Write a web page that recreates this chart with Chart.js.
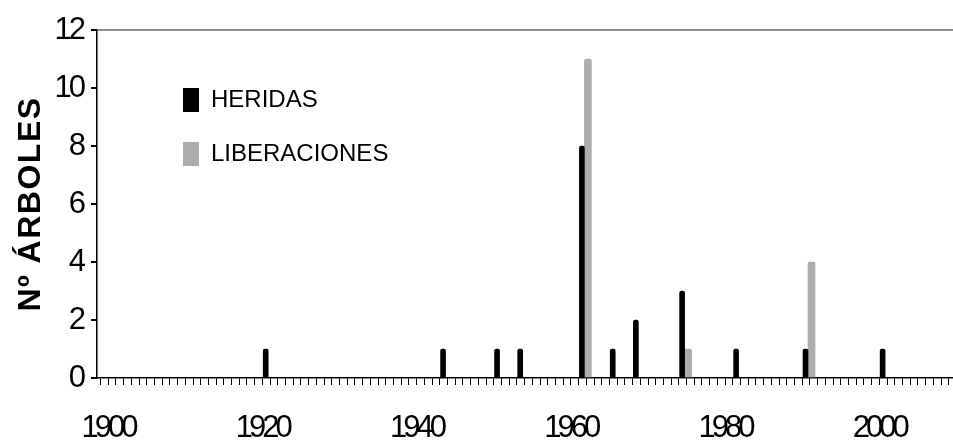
<!DOCTYPE html>
<html>
<head>
<meta charset="utf-8">
<script src="https://cdn.jsdelivr.net/npm/chart.js@4/dist/chart.umd.min.js"></script>
<style>
  html, body { margin: 0; padding: 0; background: #fff; }
  #wrap { width: 953px; height: 445px; position: relative; }
</style>
</head>
<body>
<div id="wrap"><canvas id="c" width="953" height="445"></canvas></div>
<script>
// ---- data ----
const heridasYears = [1920, 1943, 1950, 1953, 1961, 1965, 1968, 1974, 1981, 1990, 2000];
const heridasValues = [1, 1, 1, 1, 8, 1, 2, 3, 1, 1, 1];
const liberacionesYears = [1961, 1974, 1990];
const liberacionesValues = [11, 1, 4];
const xTickLabels = [1900, 1920, 1940, 1960, 1980, 2000];
const yTickValues = [0, 2, 4, 6, 8, 10, 12];
const seriesNames = ['HERIDAS', 'LIBERACIONES'];
const yTitle = 'Nº ÁRBOLES';

const regular = '"Liberation Sans", Arial, sans-serif';

const toPoints = (xs, ys) => xs.map((x, i) => ({ x: x, y: ys[i] }));
const isInt = v => Math.abs(v - Math.round(v)) < 1e-6;

// draw some of the library's own text with a tighter / looser letter spacing
function withSpacing(obj, method, spacing) {
  const orig = obj[method];
  if (!orig || orig.__wrapped) return;
  const wrapped = function(...args) {
    const ctx = this.ctx;
    ctx.save();
    ctx.letterSpacing = spacing;
    const r = orig.apply(this, args);
    ctx.restore();
    return r;
  };
  wrapped.__wrapped = true;
  obj[method] = wrapped;
}

const textStyle = {
  id: 'textStyle',
  afterLayout(chart) {
    const lg = chart.legend;
    if (lg) {
      const w = lg.width, h = lg.height;
      lg.left = 153; lg.top = 58;
      lg.right = lg.left + w; lg.bottom = lg.top + h;
    }
    withSpacing(chart.scales.x, 'drawLabels', '-4px');
    withSpacing(chart.scales.y, 'drawLabels', '-3px');
    withSpacing(chart.scales.y, 'drawTitle', '1.5px');
  }
};

new Chart(document.getElementById('c'), {
  type: 'bar',
  data: {
    datasets: [
      {
        label: seriesNames[0],
        data: toPoints(heridasYears, heridasValues),
        backgroundColor: '#000000',
        borderWidth: 0,
        barThickness: 5,
        borderRadius: { topLeft: 2, topRight: 2 },
        borderSkipped: 'bottom'
      },
      {
        label: seriesNames[1],
        data: toPoints(liberacionesYears, liberacionesValues),
        backgroundColor: '#adadad',
        borderWidth: 0,
        barThickness: 7,
        borderRadius: { topLeft: 2, topRight: 2 },
        borderSkipped: 'bottom'
      }
    ]
  },
  options: {
    responsive: false,
    animation: false,
    layout: { padding: { top: 30, right: 0, bottom: 0, left: 0 } },
    plugins: {
      tooltip: { enabled: false },
      legend: {
        position: 'chartArea',
        align: 'start',
        labels: {
          boxWidth: 16,
          boxHeight: 24,
          padding: 30,
          color: '#000',
          font: { family: regular, size: 24 }
        }
      }
    },
    scales: {
      x: {
        type: 'linear',
        min: 1897.8,
        max: 2008.8,
        offset: false,
        afterFit(s) { s.height = 67; s.paddingLeft = 0; s.paddingRight = 0; },
        border: { display: true, color: '#000', width: 1.5 },
        grid: {
          drawOnChartArea: false,
          drawTicks: true,
          tickLength: 7,
          tickWidth: 1,
          tickColor: (ctx) => (ctx.tick && !isInt(ctx.tick.value)) ? '#000' : 'rgba(0,0,0,0)'
        },
        afterBuildTicks(s) {
          const t = [];
          for (let v = Math.ceil(s.min * 2) / 2; v <= s.max + 1e-9; v += 0.5) t.push({ value: v });
          s.ticks = t;
        },
        ticks: {
          autoSkip: false,
          maxRotation: 0,
          minRotation: 0,
          padding: 25,
          labelOffset: -6,
          color: '#000',
          font: { family: regular, size: 31 },
          callback: (v) => (isInt(v) && xTickLabels.includes(Math.round(v))) ? String(Math.round(v)) : ''
        }
      },
      y: {
        min: 0,
        max: 12,
        afterFit(s) { s.width = 97; s.paddingTop = 0; s.paddingBottom = 0; },
        border: { display: true, color: '#000', width: 1.5 },
        grid: {
          drawOnChartArea: true,
          drawTicks: true,
          tickLength: 6,
          tickColor: '#000',
          lineWidth: 2,
          color: (ctx) => (ctx.tick && ctx.tick.value === 12) ? '#8f8f8f' : 'rgba(0,0,0,0)'
        },
        afterBuildTicks(s) { s.ticks = yTickValues.map(v => ({ value: v })); },
        ticks: {
          padding: 8,
          color: '#000',
          font: { family: regular, size: 31 }
        },
        title: {
          display: true,
          text: yTitle,
          color: '#000',
          padding: { top: 12, bottom: 0 },
          font: { family: regular, size: 32, weight: 'bold' }
        }
      }
    }
  },
  plugins: [textStyle]
});
</script>
</body>
</html>
